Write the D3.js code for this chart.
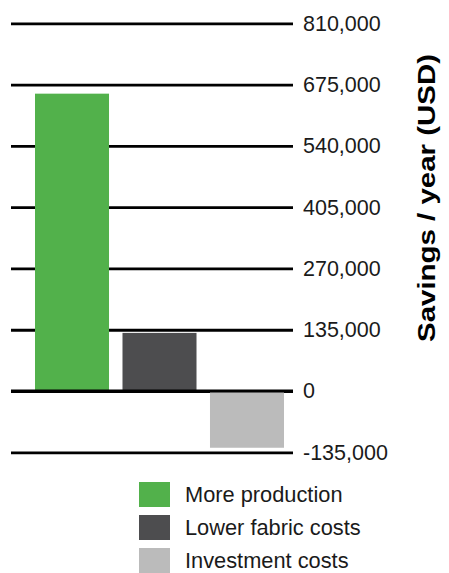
<!DOCTYPE html>
<html>
<head>
<meta charset="utf-8">
<script src="https://cdn.jsdelivr.net/npm/d3@7"></script>
<style>
  body { margin: 0; background: #fff; }
  svg { display: block; font-family: "Liberation Sans", Arial, sans-serif; }
</style>
</head>
<body>
<svg id="svg" width="449" height="573"></svg>
<script>
const categories = ['More production', 'Lower fabric costs', 'Investment costs']
const savings = [655000, 128000, -125000]
const colors = ['#52b14b', '#4d4d4f', '#bbbbbb']
const tickValues = [810000, 675000, 540000, 405000, 270000, 135000, 0, -135000]

const svg = d3.select('#svg')

const xScale = d3.scaleBand()
  .domain(categories)
  .range([28, 291])
  .paddingInner(0.154)
  .paddingOuter(0.08)

const yScale = d3.scaleLinear()
  .domain([-135000, 810000])
  .range([452.3, 23.3])

// plain hyphen for negatives, like the original
const fmt = d => d3.format(',')(d).replace('\u2212', '-')

// gridlines + labels on the right
const rightAxis = d3.axisRight(yScale)
  .tickValues(tickValues)
  .tickSize(282)
  .tickPadding(10)
  .tickFormat(fmt)

const axisG = svg.append('g')
  .attr('transform', 'translate(11, 0)')
  .call(rightAxis)

axisG.select('.domain').remove()
axisG.selectAll('.tick line')
  .attr('stroke', '#000')
  .attr('stroke-width', 2.8)
axisG.selectAll('.tick text')
  .attr('fill', '#1a1a1a')
  .attr('font-size', 21.5)
  .attr('font-family', '"Liberation Sans", Arial, sans-serif')

// bars
svg.append('g')
  .selectAll('rect')
  .data(categories)
  .enter()
  .append('rect')
  .attr('x', d => xScale(d))
  .attr('y', (d, i) => yScale(Math.max(0, savings[i])))
  .attr('width', xScale.bandwidth())
  .attr('height', (d, i) => Math.abs(yScale(savings[i]) - yScale(0)))
  .attr('fill', (d, i) => colors[i])

// zero line on top of the bars
svg.append('line')
  .attr('x1', 11)
  .attr('x2', 293)
  .attr('y1', yScale(0))
  .attr('y2', yScale(0))
  .attr('stroke', '#000')
  .attr('stroke-width', 2.8)

// axis title
svg.append('text')
  .text('Savings / year (USD)')
  .attr('transform', `translate(435, ${(53 + 343) / 2}) rotate(-90)`)
  .attr('text-anchor', 'middle')
  .attr('font-size', 24)
  .attr('font-weight', 'bold')
  .attr('textLength', 288)
  .attr('lengthAdjust', 'spacingAndGlyphs')
  .attr('fill', '#000')

// legend
const legend = svg.append('g')
  .selectAll('g')
  .data(categories)
  .enter()
  .append('g')
  .attr('transform', (d, i) => `translate(139, ${482 + i * 33})`)

legend.append('rect')
  .attr('width', 31)
  .attr('height', 25)
  .attr('fill', (d, i) => colors[i])

legend.append('text')
  .text(d => d)
  .attr('x', 46)
  .attr('y', 12.5)
  .attr('dy', '0.35em')
  .attr('font-size', 21.8)
  .attr('fill', '#1a1a1a')
</script>
</body>
</html>
